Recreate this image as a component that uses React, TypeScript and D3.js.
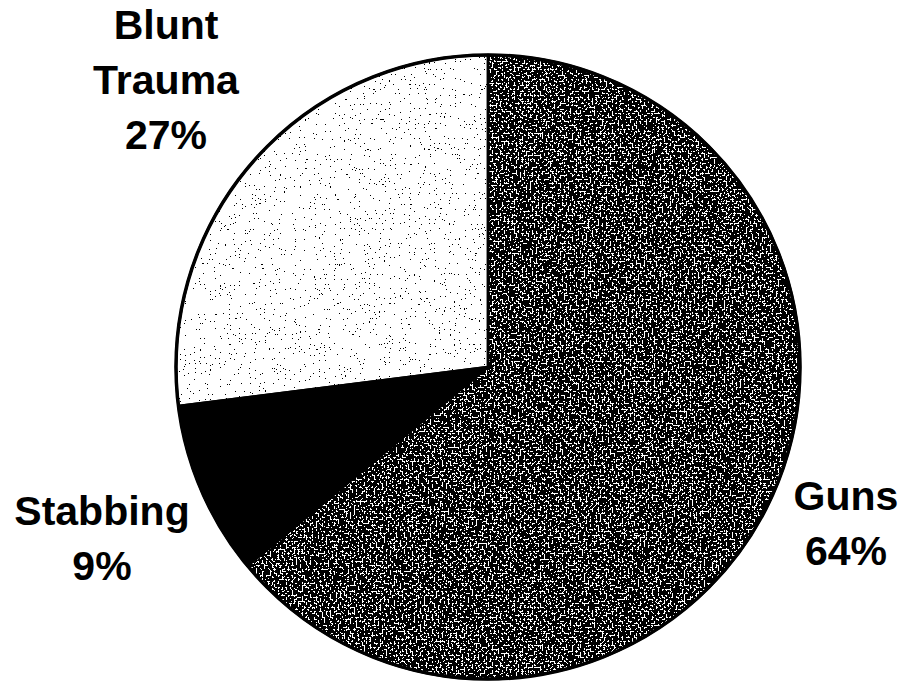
import React from "react";
import * as d3 from "d3";

const categories = ["Guns", "Stabbing", "Blunt Trauma"];
const values = [64, 9, 27];
const labelLines = [["Guns", "64%"], ["Stabbing", "9%"], ["Blunt", "Trauma", "27%"]];
const fills = ["#525252", "#000000", "#ececec"];
const textures = ["url(#texDark)", "", "url(#texLight)"];
const labelPos = [
  [846, 510],
  [102, 525],
  [166, 39],
];

export default function App() {
  const W = 908, H = 685;
  const cx = 488, cy = 367, r = 312;
  const pie = d3.pie<number>().sort(null).value((d) => d).startAngle(0).endAngle(2 * Math.PI);
  const arcs = pie(values);
  const arc = d3.arc<d3.PieArcDatum<number>>().innerRadius(0).outerRadius(r);
  return (
    <svg width={W} height={H} style={{ position: "absolute", left: 0, top: 0, background: "#fff" }}>
      <defs>
        <filter id="texDark" x="0" y="0" width="1" height="1" colorInterpolationFilters="sRGB">
          <feTurbulence type="fractalNoise" baseFrequency="0.5" numOctaves={2} seed={4} result="n" />
          <feColorMatrix in="n" type="matrix" values="4 0 0 0 -1.55  4 0 0 0 -1.55  4 0 0 0 -1.55  0 0 0 0 1" result="g" />
          <feComponentTransfer in="g" result="b">
            <feFuncR type="discrete" tableValues="0 0 0 0 0 0 0 1 1 1" />
            <feFuncG type="discrete" tableValues="0 0 0 0 0 0 0 1 1 1" />
            <feFuncB type="discrete" tableValues="0 0 0 0 0 0 0 1 1 1" />
          </feComponentTransfer>
          <feComposite in="b" in2="SourceGraphic" operator="in" />
        </filter>
        <filter id="texLight" x="0" y="0" width="1" height="1" colorInterpolationFilters="sRGB">
          <feTurbulence type="fractalNoise" baseFrequency="0.8" numOctaves={1} seed={9} result="n" />
          <feColorMatrix in="n" type="matrix" values="4 0 0 0 -1.05  4 0 0 0 -1.05  4 0 0 0 -1.05  0 0 0 0 1" result="g" />
          <feComponentTransfer in="g" result="b">
            <feFuncR type="discrete" tableValues="0 1 1 1 1 1 1 1 1 1" />
            <feFuncG type="discrete" tableValues="0 1 1 1 1 1 1 1 1 1" />
            <feFuncB type="discrete" tableValues="0 1 1 1 1 1 1 1 1 1" />
          </feComponentTransfer>
          <feComposite in="b" in2="SourceGraphic" operator="in" />
        </filter>
      </defs>
      <rect width={W} height={H} fill="#fff" />
      <g transform={`translate(${cx},${cy})`}>
        {arcs.map((a, i) => (
          <path key={categories[i]} d={arc(a) || ""} fill={fills[i]}
            filter={textures[i] || undefined} />
        ))}
        {arcs.map((a, i) => (
          <path key={"s" + categories[i]} d={arc(a) || ""} fill="none" stroke="#000" strokeWidth={2.5} strokeLinejoin="round" />
        ))}
        <circle r={r} fill="none" stroke="#000" strokeWidth={3.5} />
      </g>
      {labelLines.map((lines, i) => (
        <text key={categories[i]} x={labelPos[i][0]} y={labelPos[i][1]} textAnchor="middle"
          fontFamily="'Liberation Sans', Arial, sans-serif" fontWeight="bold" fontSize={41} fill="#000">
          {lines.map((l, j) => (
            <tspan key={j} x={labelPos[i][0]} dy={j === 0 ? 0 : 55}>{l}</tspan>
          ))}
        </text>
      ))}
    </svg>
  );
}
